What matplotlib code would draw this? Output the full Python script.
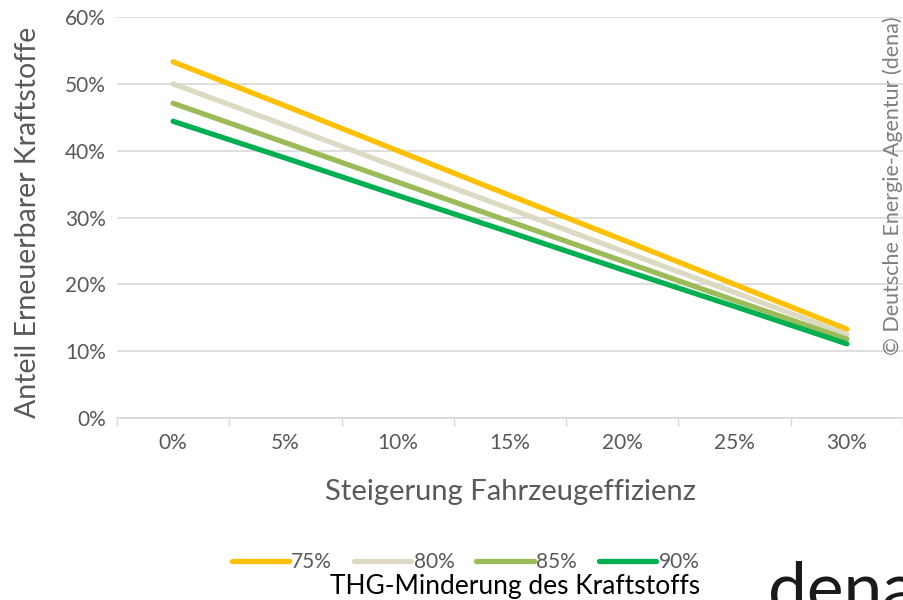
import matplotlib.pyplot as plt
from matplotlib.ticker import FixedLocator, PercentFormatter

plt.rcParams['font.family'] = ['Lato', 'DejaVu Sans']

# Steigerung Fahrzeugeffizienz (categories)
effizienz = ['0%', '5%', '10%', '15%', '20%', '25%', '30%']
# Anteil Erneuerbarer Kraftstoffe in %, one series per THG-Minderung
thg_75 = [53.3, 46.7, 40.0, 33.3, 26.7, 20.0, 13.3]
thg_80 = [50.0, 43.8, 37.5, 31.3, 25.0, 18.8, 12.5]
thg_85 = [47.1, 41.2, 35.3, 29.4, 23.5, 17.6, 11.8]
thg_90 = [44.4, 38.9, 33.3, 27.8, 22.2, 16.7, 11.1]
serien = ['75%', '80%', '85%', '90%']
farben = ['#ffc000', '#dddac3', '#9bbb59', '#00b050']

grau = '#595959'
fig = plt.figure(figsize=(9.04, 6.0), dpi=100)
ax = fig.add_axes([0.1294, 0.3033, 0.8695, 0.6683])

xs = range(len(effizienz))
for werte, name, farbe in zip([thg_75, thg_80, thg_85, thg_90], serien, farben):
    ax.plot(xs, werte, color=farbe, linewidth=3.8, solid_capstyle='round', label=name)

ax.set_xlim(-0.5, len(effizienz) - 0.5)
ax.set_ylim(0, 60)
ax.set_yticks(range(0, 61, 10))
ax.yaxis.set_major_formatter(PercentFormatter(decimals=0))
ax.set_xticks(list(xs))
ax.set_xticklabels(effizienz)
ax.xaxis.set_minor_locator(FixedLocator([i - 0.5 for i in range(len(effizienz) + 1)]))
ax.tick_params(axis='x', which='major', length=0, pad=11, labelsize=15, labelcolor=grau)
ax.tick_params(axis='x', which='minor', length=6, color='#d9d9d9', width=1)
ax.tick_params(axis='y', length=0, pad=8, labelsize=15, labelcolor=grau)
ax.grid(axis='y', color='#d9d9d9', linewidth=1.2)
ax.set_axisbelow(True)
for s in ['top', 'right', 'left']:
    ax.spines[s].set_visible(False)
ax.spines['bottom'].set_color('#d9d9d9')
ax.spines['bottom'].set_linewidth(1.2)

ax.set_xlabel('Steigerung Fahrzeugeffizienz', fontsize=21, color=grau)
ax.xaxis.set_label_coords(0.50, -0.152)
ax.set_ylabel('Anteil Erneuerbarer Kraftstoffe', fontsize=20.5, color=grau)
ax.yaxis.set_label_coords(-0.097, 0.489)

fig.text(0.988, 0.408, '© Deutsche Energie-Agentur (dena)', rotation=90, fontsize=15.5,
         color='#7f7f7f', ha='center', va='bottom')

leg = fig.legend(loc='center', bbox_to_anchor=(0.515, 0.063), ncol=4, frameon=False,
                 fontsize=15, handlelength=2.75, handletextpad=0.12, columnspacing=1.05,
                 labelcolor=grau)
fig.text(0.5693, 0.022, 'THG-Minderung des Kraftstoffs', fontsize=19, color='black',
         ha='center', va='center')
fig.text(0.85, -0.04, 'dena', fontsize=50, color='#1a1a1a', ha='left', va='bottom')

fig.savefig('out.png', dpi=100)
